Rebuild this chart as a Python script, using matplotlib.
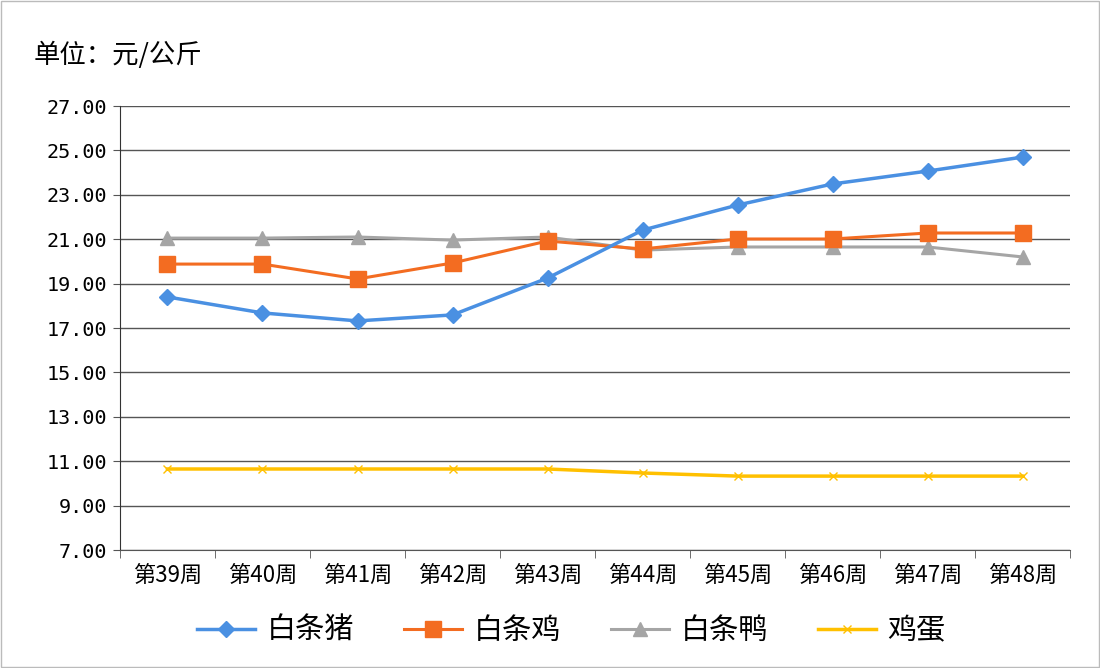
import matplotlib
matplotlib.use('Agg')
from matplotlib import pyplot as plt
import numpy as np

plt.rcParams['font.family'] = ['Noto Sans CJK SC', 'DejaVu Sans']

weeks = ['第39周', '第40周', '第41周', '第42周', '第43周',
         '第44周', '第45周', '第46周', '第47周', '第48周']
pig = [18.40, 17.68, 17.32, 17.59, 19.25, 21.41, 22.54, 23.49, 24.07, 24.70]
chicken = [19.88, 19.88, 19.21, 19.93, 20.92, 20.56, 21.01, 21.01, 21.28, 21.28]
duck = [21.05, 21.05, 21.10, 20.96, 21.10, 20.51, 20.65, 20.65, 20.65, 20.20]
egg = [10.65, 10.65, 10.65, 10.65, 10.65, 10.47, 10.33, 10.33, 10.33, 10.33]


def main():
    fig = plt.figure(figsize=(11, 6.68), dpi=100)
    ax = fig.add_axes([0.109, 0.1766, 0.864, 0.6647])
    x = np.arange(len(weeks))

    ax.plot(x, duck, color='#a5a5a5', marker='^', ms=10, lw=2.2, label='白条鸭', zorder=3)
    ax.plot(x, chicken, color='#f36c21', marker='s', ms=11, lw=2.2, label='白条鸡', zorder=4)
    ax.plot(x, pig, color='#4a90e2', marker='D', ms=8.5, lw=2.5, label='白条猪', zorder=5)
    ax.plot(x, egg, color='#ffc000', marker='x', ms=6, mew=1, lw=2.5, label='鸡蛋', zorder=3)

    ax.set_xlim(-0.5, len(weeks) - 0.5)
    ax.set_ylim(7, 27)
    yt = np.arange(7, 27.1, 2)
    ax.set_yticks(yt)
    ax.set_yticklabels(['%.2f' % v for v in yt], fontsize=14.5,
                       family=['DejaVu Sans Mono'])
    ax.set_xticks(x)
    ax.set_xticklabels(weeks, fontsize=16)
    ax.set_xticks(np.arange(-0.5, len(weeks)), minor=True)
    ax.tick_params(axis='x', which='major', length=0, pad=10)
    ax.tick_params(axis='x', which='minor', length=6, color='#555555')
    ax.tick_params(axis='y', length=5, color='#555555', pad=4)
    ax.grid(axis='y', color='#555555', lw=1)
    ax.set_axisbelow(True)
    for s in ['top', 'right']:
        ax.spines[s].set_visible(False)
    ax.spines['left'].set_color('#333333')
    ax.spines['bottom'].set_color('#555555')

    handles, labels = ax.get_legend_handles_labels()
    order = [2, 1, 0, 3]
    ax.legend([handles[i] for i in order], [labels[i] for i in order],
              loc='upper center', bbox_to_anchor=(0.475, -0.09), ncol=4,
              frameon=False, fontsize=21, handlelength=2, handletextpad=0.4,
              columnspacing=1.7)

    fig.text(0.031, 0.905, '单位：元/公斤', fontsize=19)
    border = plt.Rectangle((0.001, 0.001), 0.998, 0.998, transform=fig.transFigure,
                           fill=False, ec='#bbbbbb', lw=1)
    fig.patches.append(border)
    fig.savefig('out.png', dpi=100)


if __name__ == '__main__':
    main()
